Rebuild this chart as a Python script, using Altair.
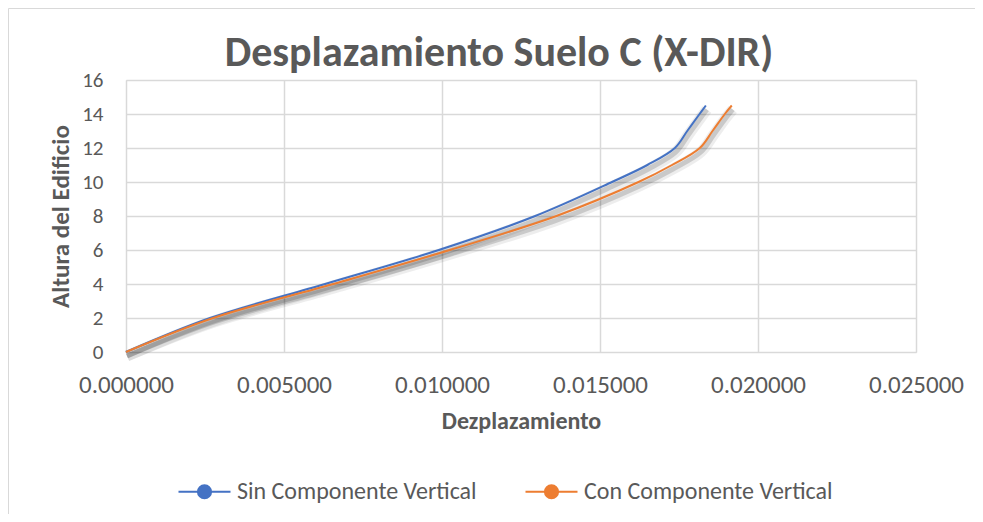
import altair as alt
import pandas as pd

# Data
alturas = [0, 2, 4, 6, 8, 10, 11, 12, 13, 14, 14.5]
sin_componente = [0, 0.00266, 0.00630, 0.00990, 0.01295, 0.01538, 0.01650, 0.01737, 0.01776, 0.01815, 0.01835]
con_componente = [0, 0.00276, 0.00656, 0.01025, 0.01362, 0.01622, 0.01728, 0.01816, 0.01856, 0.01895, 0.01917]
series = ["Sin Componente Vertical", "Con Componente Vertical"]
colores = ["#4472C4", "#ED7D31"]
x_ticks = [0, 0.005, 0.010, 0.015, 0.020, 0.025]
y_ticks = [0, 2, 4, 6, 8, 10, 12, 14, 16]

rows = []
for h, v in zip(alturas, sin_componente):
    rows.append({"serie": series[0], "desp": v, "altura": h})
for h, v in zip(alturas, con_componente):
    rows.append({"serie": series[1], "desp": v, "altura": h})
df = pd.DataFrame(rows)

FONT = "Carlito, Calibri, 'Open Sans', sans-serif"
TXT = "#595959"
GRID = "#d9d9d9"
INTERP = "catmull-rom"

x_enc = alt.X("desp:Q", scale=alt.Scale(domain=[0, 0.025], nice=False),
              axis=alt.Axis(values=x_ticks, format=".6f", title="Dezplazamiento",
                            grid=True, gridColor=GRID, gridWidth=1.5, domain=False, ticks=False,
                            labelFlush=False, labelOverlap=False,
                            labelPadding=20, labelFontSize=25, labelColor=TXT, labelFont=FONT,
                            titleFont=FONT, titleFontSize=24, titleFontWeight="bold", titleColor=TXT,
                            titleY=69, titleBaseline="middle"))
y_enc = alt.Y("altura:Q", scale=alt.Scale(domain=[0, 16], nice=False),
              axis=alt.Axis(values=y_ticks, title="Altura del Edificio",
                            grid=True, gridColor=GRID, gridWidth=1.5, domain=False, ticks=False,
                            labelFlush=False,
                            labelPadding=23, labelFontSize=21, labelColor=TXT, labelFont=FONT,
                            titleFont=FONT, titleFontSize=25, titleFontWeight="bold", titleColor=TXT,
                            titleX=-66, titleBaseline="middle"))

color_scale = alt.Scale(domain=series, range=colores)
base = alt.Chart(df)

shadow1 = base.mark_line(interpolate=INTERP, color="black", strokeWidth=11, opacity=0.07,
                         yOffset=4, xOffset=1).encode(x=x_enc, y=y_enc, detail="serie:N")
shadow2 = base.mark_line(interpolate=INTERP, color="black", strokeWidth=5, opacity=0.15,
                         yOffset=4, xOffset=1).encode(x=x_enc, y=y_enc, detail="serie:N")

# line-with-marker legend symbol, drawn with strokes only (concentric rings form the dot)
legend_symbol = ("M-1,0L1,0 "
                 "M0.25,0A0.25,0.25 0 1,1 -0.25,0A0.25,0.25 0 1,1 0.25,0 "
                 "M0.19,0A0.19,0.19 0 1,1 -0.19,0A0.19,0.19 0 1,1 0.19,0 "
                 "M0.13,0A0.13,0.13 0 1,1 -0.13,0A0.13,0.13 0 1,1 0.13,0 "
                 "M0.07,0A0.07,0.07 0 1,1 -0.07,0A0.07,0.07 0 1,1 0.07,0 "
                 "M0.02,0A0.02,0.02 0 1,1 -0.02,0A0.02,0.02 0 1,1 0.02,0")

lines = base.mark_line(interpolate=INTERP, strokeWidth=2).encode(
    x=x_enc, y=y_enc,
    color=alt.Color("serie:N", scale=color_scale,
                    legend=alt.Legend(title=None, orient="none", direction="horizontal",
                                      legendX=51, legendY=384,
                                      symbolType=legend_symbol, symbolSize=2704,
                                      symbolStrokeWidth=2.2, symbolOffset=0,
                                      labelFont=FONT, labelFontSize=24, labelColor=TXT,
                                      labelLimit=400, labelOffset=5, columnPadding=44)),
    order=alt.Order("altura:Q"),
)

# light outer border of the chart area
frame = alt.Chart(alt.Data(values=[{"k": 1}])).mark_rect(
    fill=None, stroke=GRID, strokeWidth=1
).encode(x=alt.value(-117.5), x2=alt.value(900), y=alt.value(-71.5), y2=alt.value(600))

chart = alt.layer(frame, shadow1, shadow2, lines).properties(
    width=790, height=272,
    title=alt.Title("Desplazamiento Suelo C (X-DIR)", font=FONT, fontSize=42, fontWeight="bold",
                    color=TXT, anchor="middle", frame="group", dx=-22, dy=77, offset=10),
    autosize=alt.AutoSizeParams(type="none"),
    padding={"left": 118, "top": 72, "right": 59, "bottom": 162},
).configure_view(stroke=None).configure(background="white")

chart.save("out.html", embed_options={"renderer": "svg", "actions": False})
